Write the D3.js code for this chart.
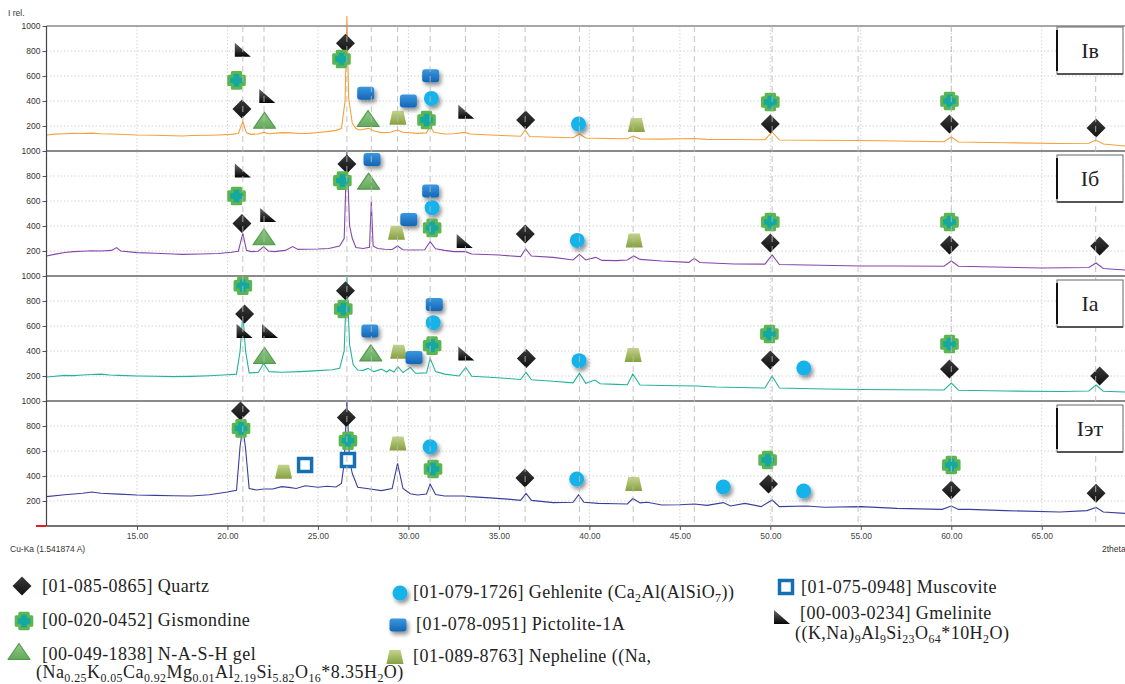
<!DOCTYPE html>
<html><head><meta charset="utf-8">
<script src="https://cdn.jsdelivr.net/npm/d3@7"></script>
<style>body{margin:0;background:#fff}svg{display:block}</style>
</head><body>
<svg id="c" width="1125" height="684"></svg>
<script>
// ---------- DATA ----------
const panelLabels = ["Iв", "Iб", "Iа", "Iэт"];
const xTicks = [15, 20, 25, 30, 35, 40, 45, 50, 55, 60, 65];
const yTicks = [200, 400, 600, 800, 1000];
const refLines = [20.85, 22.02, 26.6, 27.95, 29.4, 31.2, 33.15, 36.45, 39.45, 42.42, 45.8, 50.1, 54.85, 60.0, 67.98];

const curveIv = [[10,128],[10.5,135],[11,138],[11.5,141],[12,140],[12.5,143],[13,138],[13.5,136],[14,134],[15,128],[16,126],[17,122],[17.5,120],[18,124],[19,126],[19.5,128],[20.2,133],[20.6,140],[20.85,234],[21.05,145],[21.3,133],[21.7,136],[22.0,149],[22.3,138],[23,147],[23.5,145],[24,140],[24.5,141],[25,148],[25.5,155],[26.0,165],[26.3,180],[26.5,400],[26.6,1080],[26.7,420],[26.9,221],[27.1,180],[27.3,168],[27.8,181],[28.1,160],[28.5,147],[29,150],[29.4,168],[29.7,150],[30.5,141],[31.0,145],[31.2,200],[31.4,150],[32,136],[32.5,138],[33.1,149],[33.4,136],[34.5,128],[35.5,122],[36.2,118],[36.45,168],[36.7,116],[38,110],[39.1,106],[39.45,136],[39.8,104],[41,100],[42.1,98],[42.42,120],[42.8,97],[44,95],[45.8,100],[46.5,93],[48,92],[49.7,90],[50.1,152],[50.5,88],[52,86],[54.85,84],[57,80],[59.6,74],[60.0,112],[60.4,72],[63,66],[66,60],[67.6,62],[68.0,88],[68.4,56],[69.6,40]];
const curveIb = [[10,160],[10.5,175],[11,188],[11.5,195],[12,198],[12.5,202],[13,200],[13.6,205],[13.87,227],[14.1,200],[15,187],[16,182],[17,176],[17.5,173],[18.5,176],[19.5,180],[20.2,190],[20.6,198],[20.85,341],[21.05,205],[21.3,195],[21.7,198],[22.0,235],[22.25,200],[22.6,195],[23.2,205],[23.6,235],[23.9,213],[24.3,214],[25,216],[25.6,220],[26.2,240],[26.45,300],[26.6,1000],[26.75,400],[26.9,300],[27.1,228],[27.5,220],[27.85,230],[27.95,594],[28.05,240],[28.3,220],[28.7,214],[29.1,212],[29.4,240],[29.7,210],[30.3,208],[30.9,210],[31.2,274],[31.5,218],[32,205],[32.5,195],[33.15,195],[33.5,176],[35,168],[36.2,155],[36.48,216],[36.8,160],[38,149],[39.1,128],[39.45,173],[39.8,128],[40.35,149],[40.7,125],[41.5,123],[42.1,128],[42.45,160],[42.8,133],[44,120],[45.5,109],[45.8,141],[46.1,108],[48,96],[49.7,95],[50.1,168],[50.5,92],[52,88],[55,80],[57,80],[59.6,78],[60.0,120],[60.4,78],[63,70],[65,64],[67.6,68],[68.0,104],[68.4,60],[69.6,48]];
const curveIa = [[10,192],[10.5,198],[11,205],[11.5,203],[12,208],[12.5,212],[13,215],[13.5,208],[14,205],[15,200],[16,198],[17,195],[18,197],[19,202],[20,210],[20.5,215],[20.7,400],[20.85,700],[21.0,400],[21.2,225],[21.7,228],[22.0,300],[22.3,235],[23,230],[24,235],[25,243],[25.8,250],[26.2,261],[26.45,400],[26.6,1000],[26.75,450],[26.95,290],[27.2,248],[27.5,245],[27.77,261],[28.1,235],[28.5,255],[28.8,232],[28.96,250],[29.2,232],[29.42,275],[29.7,228],[30.1,269],[30.4,222],[31.0,225],[31.2,341],[31.5,235],[32,215],[32.8,200],[33.17,269],[33.5,198],[34.5,190],[35.5,180],[36.2,172],[36.5,229],[36.8,170],[38,158],[39.1,145],[39.45,221],[39.8,142],[40.3,168],[40.6,138],[41.5,133],[42.1,130],[42.4,216],[42.8,128],[44,124],[45.9,120],[47,112],[49.7,104],[50.1,200],[50.5,104],[53,96],[55,92],[57,90],[59.6,88],[60,144],[60.4,86],[63,80],[66,76],[67.6,80],[68,128],[68.4,78],[69.6,72]];
const curveIet = [[10,235],[11,250],[12,262],[12.5,272],[13,262],[14,255],[15,248],[16,245],[17,242],[18,240],[19,250],[20,272],[20.5,285],[20.7,640],[20.85,794],[21.0,620],[21.2,300],[21.6,288],[22,296],[22.5,296],[23,315],[23.4,309],[23.8,300],[24.3,322],[25,310],[25.5,318],[26.0,312],[26.3,340],[26.45,500],[26.6,1000],[26.75,520],[26.9,420],[27.2,310],[27.7,300],[28.5,283],[29.1,300],[29.4,501],[29.7,300],[30.1,258],[30.5,248],[31.0,256],[31.2,336],[31.5,252],[32,240],[33,240],[33.4,235],[34.5,225],[35.5,215],[36.2,205],[36.5,260],[36.8,205],[38,187],[39.1,190],[39.4,248],[39.7,190],[40.5,181],[41.5,178],[42.1,176],[42.4,220],[42.8,185],[43.2,190],[44,168],[45,170],[45.8,176],[46.5,165],[47.4,187],[47.8,160],[48.6,181],[49.5,155],[50.1,208],[50.5,155],[52,160],[53,150],[55,155],[57,141],[59.5,133],[60,160],[60.4,133],[61,133],[63,123],[66,112],[67.5,123],[68,149],[68.4,112],[69.6,101]];

const markersIv = [["gmel",20.85,810],["gis",20.5,565],["qtz",20.8,336],["gmel",22.2,440],["nash",22.05,242],["qtz",26.52,862],["gis",26.3,736],["pic",27.64,462],["nash",27.77,256],["nep",29.42,266],["pic",30.0,400],["pic",31.23,602],["geh",31.27,421],["gis",31.0,248],["gmel",33.2,315],["qtz",36.48,248],["geh",39.4,216],["nep",42.6,208],["gis",50.0,392],["qtz",50.0,216],["gis",59.9,400],["qtz",59.9,216],["qtz",68.0,184]];
const markersIb = [["gmel",20.85,845],["gis",20.5,640],["qtz",20.8,421],["gmel",22.25,488],["nash",22.02,310],["qtz",26.6,896],["gis",26.35,763],["nash",27.8,755],["pic",27.99,933],["pic",30.02,453],["nep",29.34,347],["pic",31.23,680],["geh",31.31,547],["gis",31.31,385],["gmel",33.11,280],["qtz",36.46,336],["geh",39.33,285],["nep",42.48,285],["gis",50.0,432],["qtz",50.0,264],["gis",59.9,432],["qtz",59.9,248],["qtz",68.2,240]];
const markersIa = [["gis",20.85,922],["qtz",20.95,696],["gmel",20.95,560],["gmel",22.35,560],["nash",22.05,360],["qtz",26.52,882],["gis",26.4,736],["pic",27.87,560],["nash",27.92,381],["nep",29.46,395],["pic",30.31,349],["pic",31.43,773],["geh",31.37,627],["gis",31.31,443],["gmel",33.2,381],["qtz",36.52,341],["geh",39.43,323],["nep",42.42,368],["gis",49.95,536],["qtz",50.0,328],["geh",51.85,264],["gis",59.9,456],["qtz",59.9,256],["qtz",68.2,200]];
const markersIet = [["qtz",20.72,920],["gis",20.75,781],["qtz",26.57,869],["gis",26.66,682],["mus",26.66,528],["mus",24.29,488],["nep",23.1,434],["nep",29.42,661],["geh",31.2,634],["gis",31.36,456],["qtz",36.44,384],["geh",39.3,376],["nep",42.45,336],["geh",47.4,312],["gis",49.85,528],["qtz",49.9,336],["geh",51.84,280],["gis",60.0,488],["qtz",60.0,288],["qtz",68.0,262]];

const legendCol1 = [["qtz","[01-085-0865] Quartz"],["gis","[00-020-0452] Gismondine"],["nash","[00-049-1838] N-A-S-H gel"]];
const legendCol1Extra = "(Na_{0.25}K_{0.05}Ca_{0.92}Mg_{0.01}Al_{2.19}Si_{5.82}O_{16}*8.35H_{2}O)";
const legendCol2 = [["geh","[01-079-1726] Gehlenite (Ca_{2}Al(AlSiO_{7}))"],["pic","[01-078-0951] Pictolite-1A"],["nep","[01-089-8763] Nepheline ((Na,"]];
const legendCol3 = [["mus","[01-075-0948] Muscovite"],["gmel","[00-003-0234] Gmelinite"]];
const legendCol3Extra = "((K,Na)_{9}Al_{9}Si_{23}O_{64}*10H_{2}O)";

// ---------- DRAW ----------
const svg = d3.select("#c");
const defs = svg.append("defs");
const sh = defs.append("filter").attr("id","sh").attr("x","-60%").attr("y","-60%").attr("width","220%").attr("height","220%");
sh.append("feGaussianBlur").attr("in","SourceAlpha").attr("stdDeviation",2).attr("result","b");
sh.append("feOffset").attr("in","b").attr("dx",1.5).attr("dy",2.5).attr("result","o");
sh.append("feComponentTransfer").attr("in","o").attr("result","t").append("feFuncA").attr("type","linear").attr("slope",0.45);
const mg = sh.append("feMerge"); mg.append("feMergeNode").attr("in","t"); mg.append("feMergeNode").attr("in","SourceGraphic");
function grad(id, c1, c2){ const g=defs.append("linearGradient").attr("id",id).attr("x1",0).attr("y1",0).attr("x2",0).attr("y2",1);
  g.append("stop").attr("offset","0%").attr("stop-color",c1); g.append("stop").attr("offset","100%").attr("stop-color",c2);}
grad("gPic","#3a98e0","#1465b5");
grad("gNep","#c3d48a","#86a040");
grad("gGm","#6a6a6a","#050505");
grad("gQ","#3a3a3a","#111");
grad("gNa","#8fcb85","#63a95c");

const X0 = 46.5, X1 = 1125, TOP = 26, PH = 125;
const x = d3.scaleLinear().domain([10, 69.6]).range([X0, X1]);
const yScales = panelLabels.map((_, i) => d3.scaleLinear().domain([0, 1000]).range([TOP + (i+1)*PH, TOP + i*PH]));

function marker(g, type, cx, cy){
  const m = g.append("g").attr("transform", `translate(${cx},${cy})`);
  switch(type){
    case "qtz": m.append("path").attr("d","M0,-9.5L9.5,0L0,9.5L-9.5,0Z").attr("fill","url(#gQ)"); break;
    case "gis": {
      const h=7.8, a=4.2;
      m.append("path").attr("d",`M${-a},${-h}H${a}V${-a}H${h}V${a}H${a}V${h}H${-a}V${a}H${-h}V${-a}H${-a}Z`)
       .attr("fill","#14a8a2").attr("stroke","#5cb54f").attr("stroke-width",3).attr("stroke-linejoin","round"); break; }
    case "nash": m.append("path").attr("d","M0,-8.5L11,7.5L-11,7.5Z").attr("fill","url(#gNa)").attr("stroke","#55994f").attr("stroke-width",1.2).attr("stroke-linejoin","round"); break;
    case "geh": m.append("circle").attr("r",7.5).attr("fill","#18b2ea").attr("filter","url(#sh)"); break;
    case "pic": m.append("rect").attr("x",-8.5).attr("y",-6.5).attr("width",17).attr("height",13).attr("rx",3).attr("fill","url(#gPic)").attr("filter","url(#sh)"); break;
    case "nep": m.append("path").attr("d","M-5.5,-7L5.5,-7L8.5,7L-8.5,7Z").attr("fill","url(#gNep)"); break;
    case "mus": m.append("rect").attr("x",-6.5).attr("y",-6.5).attr("width",13).attr("height",13).attr("fill","#fff").attr("stroke","#1570b3").attr("stroke-width",3.5); break;
    case "gmel": m.append("path").attr("d","M-8,-7L8,7L-8,7Z").attr("fill","url(#gGm)"); break;
  }
}

// grid: horizontal dotted
const gGrid = svg.append("g");
yScales.forEach(ys => {
  [200,400,600,800].forEach(v => gGrid.append("line").attr("x1",X0).attr("x2",X1).attr("y1",ys(v)).attr("y2",ys(v))
    .attr("stroke","#d4d4d4").attr("stroke-dasharray","1.5,2"));
});
xTicks.forEach(t => gGrid.append("line").attr("x1",x(t)).attr("x2",x(t)).attr("y1",TOP).attr("y2",TOP+4*PH)
    .attr("stroke","#d4d4d4").attr("stroke-dasharray","1.5,2"));

// curves
const curves = [curveIv, curveIb, curveIa, curveIet];
const colors = ["#f5a03a", "#8347aa", "#22b39a", "#3b3d9c"];
curves.forEach((c, i) => {
  const line = d3.line().x(d => x(d[0])).y(d => yScales[i](d[1]));
  svg.append("path").datum(c).attr("d", line).attr("fill","none").attr("stroke",colors[i]).attr("stroke-width",1.1);
});

// panel separators and frame
for (let i = 0; i <= 3; i++) {
  svg.append("line").attr("x1",X0).attr("x2",X1).attr("y1",TOP+i*PH).attr("y2",TOP+i*PH)
    .attr("stroke","#8a8a8a").attr("stroke-width", i===0?1.5:2);
}
svg.append("line").attr("x1",X0).attr("x2",X1).attr("y1",TOP+4*PH).attr("y2",TOP+4*PH).attr("stroke","#444").attr("stroke-width",1.3);

// markers
const markerSets = [markersIv, markersIb, markersIa, markersIet];
markerSets.forEach((ms, i) => {
  const g = svg.append("g");
  ms.forEach(m => marker(g, m[0], x(m[1]), yScales[i](m[2])));
});

// reference dashed lines (over markers)
refLines.forEach(r => svg.append("line").attr("x1",x(r)).attr("x2",x(r)).attr("y1",TOP).attr("y2",TOP+4*PH)
  .attr("stroke","#b8b8b8").attr("stroke-opacity",0.85).attr("stroke-dasharray","6,4"));

// y axes
yScales.forEach((ys, i) => {
  const ax = svg.append("g").attr("transform",`translate(${X0},0)`)
    .call(d3.axisLeft(ys).tickValues(yTicks).tickSize(4).tickPadding(2).tickFormat(d3.format("d")));
  ax.select(".domain").remove();
  ax.selectAll("line").attr("stroke","#555");
  ax.selectAll("text").attr("font-family","Liberation Sans, Arial, sans-serif").attr("font-size",8.5).attr("fill","#333");
});
svg.append("line").attr("x1",X0).attr("x2",X0).attr("y1",TOP).attr("y2",TOP+4*PH).attr("stroke","#444").attr("stroke-width",1.2);
svg.append("line").attr("x1",36).attr("x2",X0).attr("y1",TOP+4*PH).attr("y2",TOP+4*PH).attr("stroke","#e02020").attr("stroke-width",2);

// x axis
const xa = svg.append("g").attr("transform",`translate(0,${TOP+4*PH})`)
  .call(d3.axisBottom(x).tickValues(xTicks).tickSize(4).tickPadding(3).tickFormat(d3.format(".2f")));
xa.select(".domain").remove();
xa.selectAll("line").attr("stroke","#555");
xa.selectAll("text").attr("font-family","Liberation Sans, Arial, sans-serif").attr("font-size",8.5).attr("fill","#444");

const small = {"font-family":"Liberation Sans, Arial, sans-serif","font-size":8.5,"fill":"#333"};
function txt(s, tx, ty, attrs, anchor){ const t = svg.append("text").attr("x",tx).attr("y",ty).text(s).attr("text-anchor",anchor||"start");
  Object.entries(attrs).forEach(([k,v]) => t.attr(k,v)); return t; }
txt("I rel.", 8, 16, small);
txt("Cu-Ka (1.541874 A)", 10, 552, small);
txt("2theta", 1102, 552, small);

// panel label boxes
panelLabels.forEach((lab, i) => {
  const top = TOP + i*PH + (i===0?1:4);
  const g = svg.append("g");
  g.append("rect").attr("x",1057).attr("y",top).attr("width",66).attr("height",47).attr("fill","#fff").attr("stroke","#666").attr("stroke-width",1);
  g.append("line").attr("x1",1057).attr("x2",1057).attr("y1",top+3).attr("y2",top+44).attr("stroke","#111").attr("stroke-width",2);
  g.append("line").attr("x1",1057).attr("x2",1123).attr("y1",top+47).attr("y2",top+47).attr("stroke","#555").attr("stroke-width",2);
  g.append("text").attr("x",1090).attr("y",top+31).attr("text-anchor","middle").attr("font-family","Liberation Serif, Times New Roman, serif")
    .attr("font-size",22).attr("fill","#222").text(lab);
});

// rich text with subscripts
function rich(tx, ty, str, fs){
  const t = svg.append("text").attr("x",tx).attr("y",ty).attr("font-family","'Liberation Serif', 'Times New Roman', serif")
    .attr("font-size",fs).attr("letter-spacing",0.45).attr("fill","#222");
  const parts = str.split(/(_\{[^}]*\})/).filter(s => s.length);
  let inSub = false;
  parts.forEach(p => {
    if (p.startsWith("_{")) {
      t.append("tspan").attr("font-size",fs*0.66).attr("dy", inSub?0:3.5).text(p.slice(2,-1)); inSub = true;
    } else {
      t.append("tspan").attr("dy", inSub?-3.5:0).text(p); inSub = false;
    }
  });
  return t;
}

// legend
const FS = 18;
const col1Pos = [[22,586,42,592],[24,621,42,626],[19,652,42,660]];
legendCol1.forEach((d,i) => { marker(svg, d[0], col1Pos[i][0], col1Pos[i][1]); rich(col1Pos[i][2], col1Pos[i][3], d[1], FS); });
rich(36, 678, legendCol1Extra, FS);
const col2Pos = [[400,593,413,598],[398,625,416,630],[395,657,413,662]];
legendCol2.forEach((d,i) => { marker(svg, d[0], col2Pos[i][0], col2Pos[i][1]); rich(col2Pos[i][2], col2Pos[i][3], d[1], FS); });
const col3Pos = [[786,587,801,593],[782,617,800,619]];
legendCol3.forEach((d,i) => { marker(svg, d[0], col3Pos[i][0], col3Pos[i][1]); rich(col3Pos[i][2], col3Pos[i][3], d[1], FS); });
rich(795, 639, legendCol3Extra, FS);
</script>
</body></html>
